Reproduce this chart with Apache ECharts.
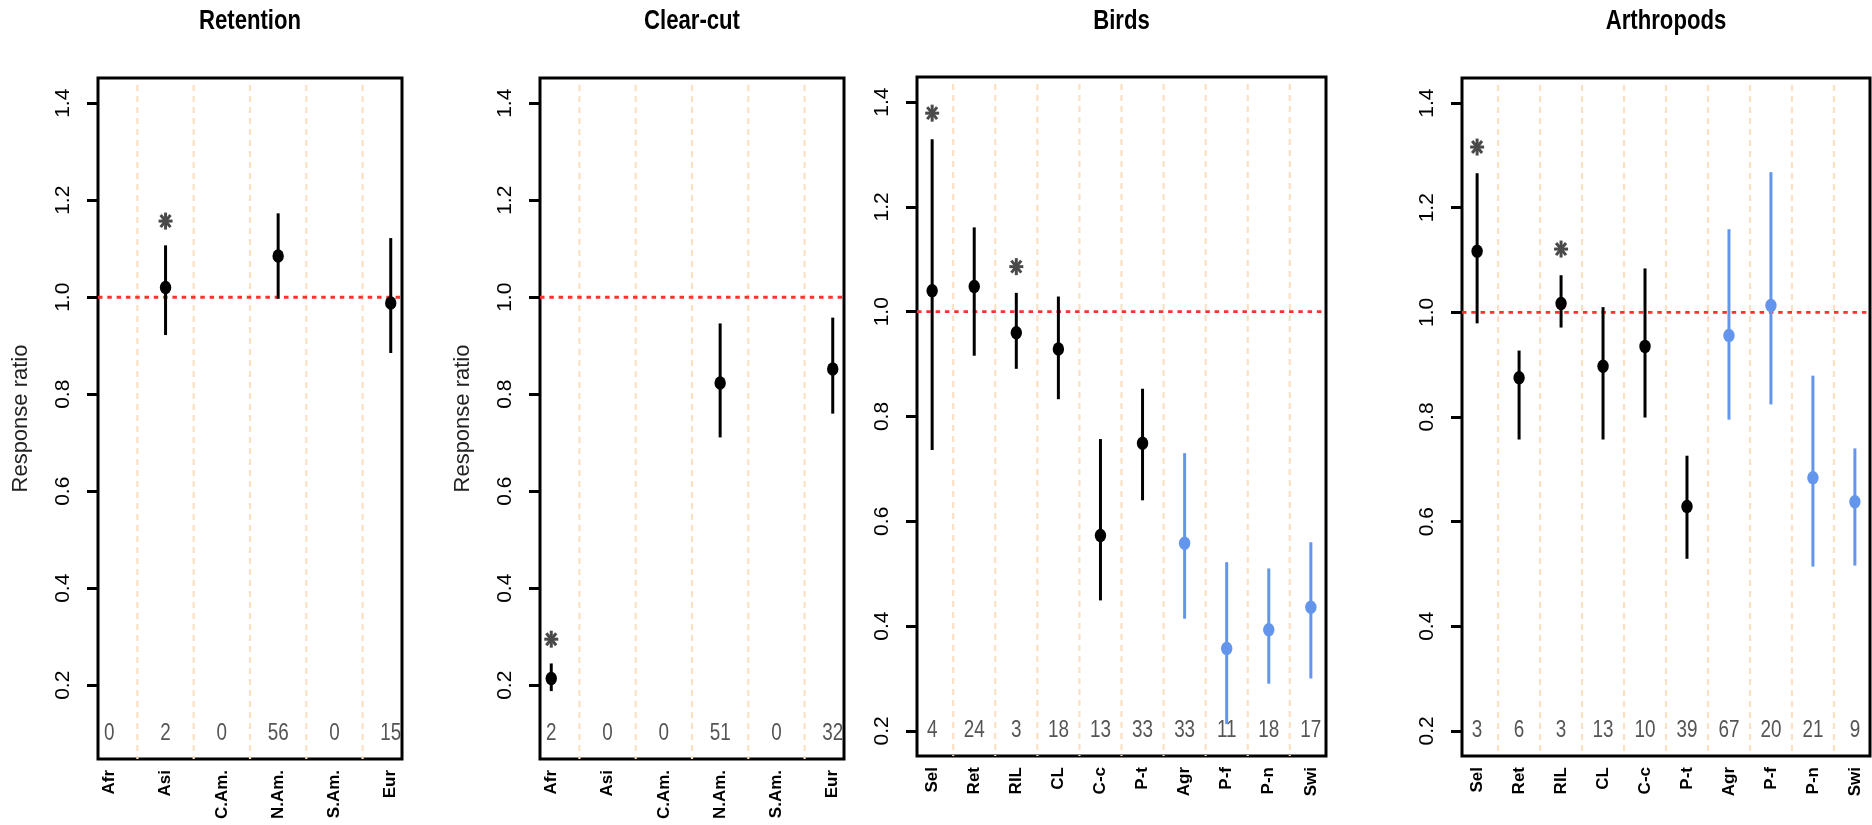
<!DOCTYPE html>
<html>
<head>
<meta charset="utf-8">
<script src="https://cdn.jsdelivr.net/npm/echarts@6/dist/echarts.min.js"></script>
<style>
  html, body { margin: 0; padding: 0; background: #fff; }
  #chart { width: 1872px; height: 825px; }
</style>
</head>
<body>
<div id="chart"></div>
<script>
// regions (Retention / Clear-cut)
const regionCats = ['Afr', 'Asi', 'C.Am.', 'N.Am.', 'S.Am.', 'Eur'];
const retMean = [null, 1.020, null, 1.085, null, 0.988];
const retLo   = [null, 0.922, null, 0.997, null, 0.885];
const retHi   = [null, 1.107, null, 1.173, null, 1.122];
const retN    = [0, 2, 0, 56, 0, 15];
const retSig  = [0, 1, 0, 0, 0, 0];

const ccMean = [0.214, null, null, 0.823, null, 0.852];
const ccLo   = [0.188, null, null, 0.711, null, 0.760];
const ccHi   = [0.245, null, null, 0.946, null, 0.958];
const ccN    = [2, 0, 0, 51, 0, 32];
const ccSig  = [1, 0, 0, 0, 0, 0];

// land-use types (Birds / Arthropods)
const useCats = ['Sel', 'Ret', 'RIL', 'CL', 'C-c', 'P-t', 'Agr', 'P-f', 'P-n', 'Swi'];
const otherUse = ['Agr', 'P-f', 'P-n', 'Swi']; // non-forestry -> blue

const birdMean = [1.040, 1.048, 0.960, 0.929, 0.573, 0.749, 0.558, 0.357, 0.393, 0.436];
const birdLo   = [0.736, 0.916, 0.891, 0.833, 0.449, 0.640, 0.414, 0.213, 0.290, 0.300];
const birdHi   = [1.329, 1.161, 1.036, 1.029, 0.757, 0.853, 0.730, 0.522, 0.510, 0.560];
const birdN    = [4, 24, 3, 18, 13, 33, 33, 11, 18, 17];
const birdSig  = [1, 0, 1, 0, 0, 0, 0, 0, 0, 0];

const arthMean = [1.117, 0.875, 1.017, 0.897, 0.935, 0.629, 0.956, 1.013, 0.684, 0.638];
const arthLo   = [0.979, 0.757, 0.971, 0.757, 0.799, 0.529, 0.795, 0.824, 0.514, 0.516];
const arthHi   = [1.266, 0.927, 1.071, 1.010, 1.084, 0.726, 1.159, 1.268, 0.879, 0.740];
const arthN    = [3, 6, 3, 13, 10, 39, 67, 20, 21, 9];
const arthSig  = [1, 0, 1, 0, 0, 0, 0, 0, 0, 0];

const yTicks = [0.2, 0.4, 0.6, 0.8, 1.0, 1.2, 1.4];
const refValue = 1.0;

const panels = [
  {title: 'Retention', cats: regionCats, mean: retMean, lo: retLo, hi: retHi, n: retN, sig: retSig,
   ylim: [0.1, 1.4], box: [98, 78, 304, 681], yName: 'Response ratio'},
  {title: 'Clear-cut', cats: regionCats, mean: ccMean, lo: ccLo, hi: ccHi, n: ccN, sig: ccSig,
   ylim: [0.1, 1.4], box: [540, 78, 304, 681], yName: 'Response ratio'},
  {title: 'Birds', cats: useCats, mean: birdMean, lo: birdLo, hi: birdHi, n: birdN, sig: birdSig,
   ylim: [0.2, 1.4], box: [917, 77, 409, 679], yName: ''},
  {title: 'Arthropods', cats: useCats, mean: arthMean, lo: arthLo, hi: arthHi, n: arthN, sig: arthSig,
   ylim: [0.2, 1.4], box: [1462, 78, 408, 678], yName: ''},
];

const SANS = '"Liberation Sans", Arial, sans-serif';
const BLUE = '#6495ed';
const NARROW_X = 0.82; // no narrow font installed, squeeze instead

const chart = echarts.init(document.getElementById('chart'));

const grid = [], xAxis = [], yAxis = [], series = [], graphic = [];

panels.forEach((p, gi) => {
  const [left, top, width, height] = p.box;
  const nc = p.cats.length;
  // R style 4% padding around the data range
  const xPad = 0.04 * (nc - 1);
  const yPad = 0.04 * (p.ylim[1] - p.ylim[0]);

  grid.push({left, top, width, height, show: true, borderColor: '#000', borderWidth: 3});

  xAxis.push({
    type: 'value', gridIndex: gi, min: 1 - xPad, max: nc + xPad,
    axisLine: {show: false}, axisTick: {show: false}, splitLine: {show: false},
    axisLabel: {
      customValues: p.cats.map((c, k) => k + 1),
      formatter: v => p.cats[Math.round(v) - 1],
      rotate: 90, margin: 11, color: '#000',
      fontFamily: SANS, fontWeight: 'bold', fontSize: 17,
    },
  });

  yAxis.push({
    type: 'value', gridIndex: gi, min: p.ylim[0] - yPad, max: p.ylim[1] + yPad,
    name: p.yName, nameLocation: 'middle', nameGap: 66,
    nameTextStyle: {fontFamily: SANS, fontSize: 22, color: '#222'},
    axisLine: {show: false}, splitLine: {show: false},
    axisTick: {show: true, length: 11, customValues: yTicks, lineStyle: {color: '#000', width: 3}},
    axisLabel: {
      customValues: yTicks, formatter: v => v.toFixed(1),
      rotate: 90, margin: 24, color: '#000', fontFamily: SANS, fontSize: 21,
    },
  });

  // dashed separators between categories
  series.push({
    type: 'custom', xAxisIndex: gi, yAxisIndex: gi, z: 1, silent: true,
    data: p.cats.slice(1).map((c, k) => [k + 1.5]),
    renderItem: (params, api) => {
      const cs = params.coordSys;
      const x = api.coord([api.value(0), p.ylim[0]])[0];
      return {type: 'line', shape: {x1: x, y1: cs.y + 7, x2: x, y2: cs.y + cs.height},
        style: {stroke: '#fbe0c4', lineWidth: 2.2, lineDash: [6, 5]}};
    },
  });

  // red reference line at 1.0
  series.push({
    type: 'custom', xAxisIndex: gi, yAxisIndex: gi, z: 2, silent: true,
    data: [[1, refValue]],
    renderItem: (params, api) => {
      const cs = params.coordSys;
      const y = api.coord([1, api.value(1)])[1];
      return {type: 'line', shape: {x1: cs.x, y1: y, x2: cs.x + cs.width, y2: y},
        style: {stroke: '#ff3030', lineWidth: 2.8, lineDash: [4.5, 4.8]}};
    },
  });

  // estimates, CIs, stars and sample sizes
  series.push({
    type: 'custom', xAxisIndex: gi, yAxisIndex: gi, z: 3, silent: true,
    data: p.cats.map((c, k) => [k + 1, p.ylim[0]]),
    renderItem: (params, api) => {
      const k = params.dataIndex;
      const x = api.value(0);
      const color = otherUse.includes(p.cats[k]) ? BLUE : '#000';
      const kids = [];
      const nPos = api.coord([x, api.value(1)]);
      kids.push({type: 'text', x: nPos[0], y: nPos[1], scaleX: NARROW_X,
        style: {text: String(p.n[k]), fill: '#555', align: 'center', verticalAlign: 'middle',
          font: '23px ' + SANS}});
      if (p.mean[k] != null) {
        const lo = api.coord([x, p.lo[k]]);
        const hi = api.coord([x, p.hi[k]]);
        const m = api.coord([x, p.mean[k]]);
        kids.push({type: 'line', shape: {x1: lo[0], y1: lo[1], x2: hi[0], y2: hi[1]},
          style: {stroke: color, lineWidth: 3}});
        kids.push({type: 'circle', x: m[0], y: m[1], scaleY: 1.18, shape: {cx: 0, cy: 0, r: 5.7},
          style: {fill: color}});
        if (p.sig[k]) {
          const s = api.coord([x, p.hi[k] + 0.05]);
          const rx = 7, ry = 8.5, d = 0.707;
          [[0, ry, 0, -ry], [-rx, 0, rx, 0], [-rx * d, -ry * d, rx * d, ry * d], [-rx * d, ry * d, rx * d, -ry * d]]
            .forEach(l => kids.push({type: 'line',
              shape: {x1: s[0] + l[0], y1: s[1] + l[1], x2: s[0] + l[2], y2: s[1] + l[3]},
              style: {stroke: '#4a4a4a', lineWidth: 3}}));
        }
      }
      return {type: 'group', children: kids};
    },
  });

  graphic.push({
    type: 'text', x: left + width / 2, y: 22, scaleX: NARROW_X,
    style: {text: p.title, align: 'center', verticalAlign: 'middle', fill: '#000',
      font: 'bold 27px ' + SANS},
  });
});

chart.setOption({
  backgroundColor: '#fff',
  animation: false,
  grid, xAxis, yAxis, series, graphic,
});
</script>
</body>
</html>
